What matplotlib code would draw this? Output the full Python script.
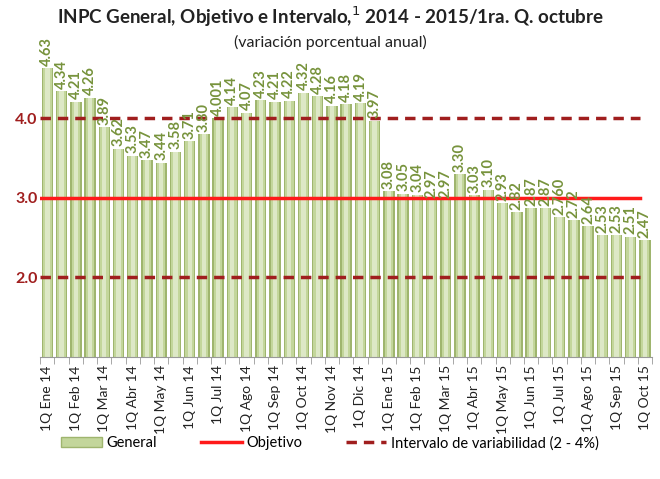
import numpy as np
import matplotlib.pyplot as plt
from matplotlib.lines import Line2D
from matplotlib.patches import Patch

plt.rcParams['font.family'] = ['Lato', 'DejaVu Sans']

# annual inflation by fortnight, 1Q Ene 14 .. 1Q Oct 15
values = [4.63, 4.34, 4.21, 4.26, 3.89, 3.62, 3.53, 3.47, 3.44, 3.58,
          3.71, 3.80, 4.00, 4.14, 4.07, 4.23, 4.21, 4.22, 4.32, 4.28,
          4.16, 4.18, 4.19, 3.97, 3.08, 3.05, 3.04, 2.97, 2.97, 3.30,
          3.03, 3.10, 2.93, 2.82, 2.87, 2.87, 2.76, 2.72, 2.64, 2.53,
          2.53, 2.51, 2.47]
value_labels = ['4.63', '4.34', '4.21', '4.26', '3.89', '3.62', '3.53', '3.47', '3.44', '3.58',
                '3.71', '3.80', '4.001', '4.14', '4.07', '4.23', '4.21', '4.22', '4.32', '4.28',
                '4.16', '4.18', '4.19', '3.97', '3.08', '3.05', '3.04', '2.97', '2.97', '3.30',
                '3.03', '3.10', '2.93', '2.82', '2.87', '2.87', '2.760', '2.72', '2.64', '2.53',
                '2.53', '2.51', '2.47']
months = ['Ene', 'Feb', 'Mar', 'Abr', 'May', 'Jun', 'Jul', 'Ago', 'Sep', 'Oct', 'Nov', 'Dic']
tick_labels = ['1Q %s 14' % m for m in months] + ['1Q %s 15' % m for m in months[:10]]
objetivo = 3.0
intervalo = (2.0, 4.0)

x = np.arange(len(values))

fig = plt.figure(figsize=(6.6, 4.79), dpi=100)
ax = fig.add_axes([0.061, 0.255, 0.927, 0.664])

# cylinder-ish bars: darker base with lighter core
ax.bar(x, values, width=0.8, color='#9fb56e', edgecolor='none', zorder=2)
ax.bar(x, values, width=0.6, color='#c3d69b', edgecolor='none', zorder=2)
ax.bar(x, values, width=0.3, color='#dde8c6', edgecolor='none', zorder=2)

for xi, v, s in zip(x, values, value_labels):
    ax.text(xi, v + 0.03, s, rotation=90, ha='center', va='bottom',
            color='#77933c', fontsize=10.5, fontweight='bold', clip_on=False, zorder=4)

ax.axhline(objetivo, color='#ff1a1a', lw=2.5, zorder=3, xmax=0.98)
for lvl in intervalo:
    ax.axhline(lvl, color='#a01e1e', lw=2.5, ls=(0, (3, 2)), zorder=3, xmax=0.98)

ax.set_xlim(-0.5, len(values) - 0.5)
ax.set_ylim(1.0, 5.0)
ax.set_yticks([2.0, 3.0, 4.0])
ax.set_yticklabels(['2.0', '3.0', '4.0'], color='#a01e1e', fontsize=11.5, fontweight='bold')
ax.tick_params(axis='y', length=0, pad=2)

ax.set_xticks(x[::2])
ax.set_xticklabels(tick_labels, rotation=90, fontsize=10, color='#222222')
ax.set_xticks(np.arange(-0.5, len(values), 1), minor=True)
ax.tick_params(axis='x', which='major', length=0, pad=6)
ax.tick_params(axis='x', which='minor', length=5, color='#999999')

for side in ['top', 'right', 'left']:
    ax.spines[side].set_visible(False)
ax.spines['bottom'].set_color('#999999')

fig.text(0.5, 0.965, 'INPC General, Objetivo e Intervalo,$^{1}$ 2014 - 2015/1ra. Q. octubre',
         ha='center', va='center', fontsize=13.5, fontweight='bold', color='#222222')
fig.text(0.5, 0.912, '(variación porcentual anual)', ha='center', va='center',
         fontsize=11.5, color='#222222')

handles = [Patch(facecolor='#c3d69b', edgecolor='#9fb56e'),
           Line2D([], [], color='#ff1a1a', lw=2.5),
           Line2D([], [], color='#a01e1e', lw=2.5, ls=(0, (3, 2)))]
fig.legend(handles, ['General', 'Objetivo', 'Intervalo de variabilidad (2 - 4%)'],
           loc='center', bbox_to_anchor=(0.5, 0.075), ncol=3, frameon=False,
           fontsize=10.5, handlelength=2.8, columnspacing=3.0, handletextpad=0.3)

fig.savefig('out.png', dpi=100)
